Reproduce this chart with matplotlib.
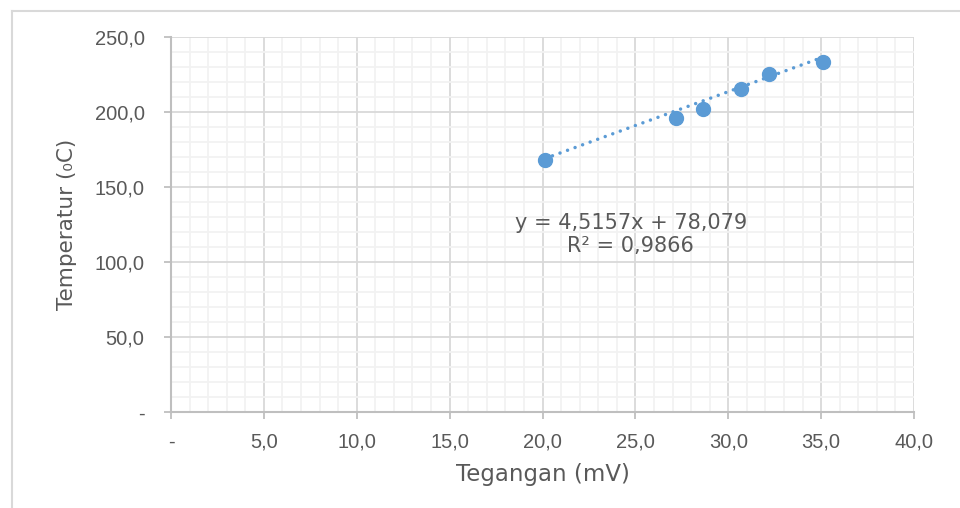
import matplotlib
matplotlib.use("Agg")
import matplotlib.pyplot as plt
from matplotlib.ticker import MultipleLocator, FuncFormatter
from matplotlib.lines import Line2D
import numpy as np

# Data
tegangan = [20.13, 27.17, 28.66, 30.67, 32.21, 35.12]
temperatur = [168.0, 196.2, 201.8, 215.5, 225.1, 233.5]
slope = 4.5157
intercept = 78.079
r2_text = "R² = 0,9866"
eq_text = "y = 4,5157x + 78,079"
x_label = "Tegangan (mV)"
y_label = "Temperatur (\u2080C)"

blue = "#5B9BD5"
grey_txt = "#595959"

plt.rcParams['font.family'] = ['Liberation Sans', 'DejaVu Sans']

fig = plt.figure(figsize=(9.6, 5.08), dpi=100)
ax = fig.add_axes([171/960, 1-412/508, (914-171)/960, (412-37)/508])

# chart border (left & top only visible)
fig.add_artist(Line2D([12/960, 12/960], [0, 1-11/508], transform=fig.transFigure, color="#d9d9d9", lw=1.5))
fig.add_artist(Line2D([12/960, 1], [1-11/508, 1-11/508], transform=fig.transFigure, color="#d9d9d9", lw=1.5))

ax.set_xlim(0, 40)
ax.set_ylim(0, 250)
ax.xaxis.set_major_locator(MultipleLocator(5))
ax.xaxis.set_minor_locator(MultipleLocator(1))
ax.yaxis.set_major_locator(MultipleLocator(50))
ax.yaxis.set_minor_locator(MultipleLocator(10))

ax.grid(which='minor', color="#f2f2f2", lw=1.3)
ax.grid(which='major', color="#d9d9d9", lw=1.3)
ax.set_axisbelow(True)

def fmt(v, pos):
    if abs(v) < 1e-9:
        return "-"
    return f"{v:.1f}".replace(".", ",")

ax.xaxis.set_major_formatter(FuncFormatter(fmt))
ax.yaxis.set_major_formatter(FuncFormatter(fmt))

for s in ['top', 'right']:
    ax.spines[s].set_visible(False)
for s in ['left', 'bottom']:
    ax.spines[s].set_color("#bfbfbf")
    ax.spines[s].set_linewidth(1.5)

ax.tick_params(which='major', direction='out', length=5, width=1.3, color="#bfbfbf",
               labelcolor=grey_txt, labelsize=14.5)
ax.tick_params(axis='y', pad=14)
ax.tick_params(axis='x', pad=10)
ax.tick_params(which='minor', length=0)

# trendline
xs = np.array([min(tegangan), max(tegangan)])
ax.plot(xs, slope*xs + intercept, linestyle=(0, (0.01, 2.3)), color=blue, lw=2.5,
        dash_capstyle='round', solid_capstyle='round', zorder=3)
ax.plot(tegangan, temperatur, 'o', color=blue, markersize=10, zorder=4, clip_on=False)

ax.text(24.76, 126, eq_text, ha='center', va='center', fontsize=15, color=grey_txt,
        family='DejaVu Sans')
ax.text(24.76, 110.5, r2_text, ha='center', va='center', fontsize=15, color=grey_txt,
        family='DejaVu Sans')

ax.set_xlabel(x_label, fontsize=16.5, color=grey_txt, labelpad=8, family='DejaVu Sans')
ax.set_ylabel(y_label, fontsize=15.5, color=grey_txt, labelpad=13, family='DejaVu Sans')

fig.savefig("out.png", dpi=100)
